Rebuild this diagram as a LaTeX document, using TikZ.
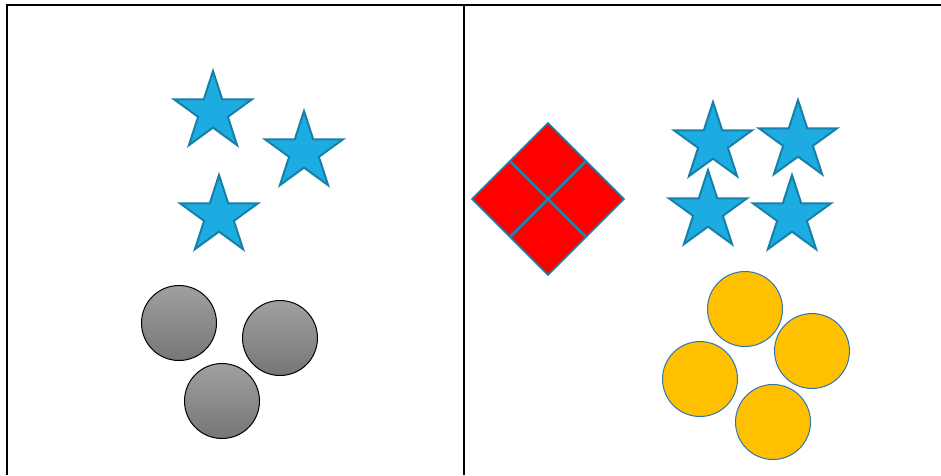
\documentclass[tikz,border=0pt]{standalone}
\usepackage{tikz}
\usetikzlibrary{shapes.geometric}
\definecolor{starfill}{RGB}{29, 172, 226}
\definecolor{starline}{RGB}{22, 128, 168}
\definecolor{coinfill}{RGB}{255, 192, 0}
\definecolor{coinline}{RGB}{46, 117, 182}
\definecolor{grayhi}{RGB}{160, 160, 160}
\definecolor{graylo}{RGB}{118, 118, 118}

\begin{document}
\begin{tikzpicture}[
    x=1pt, y=-1pt,
    bluestar/.style={star, star points=5, star point ratio=2.618, draw=starline, fill=starfill, line width=2pt, inner sep=0pt, minimum size=82pt},
    graycoin/.style={circle, draw=black, line width=1pt, top color=grayhi, bottom color=graylo, inner sep=0pt, minimum size=75pt},
    goldcoin/.style={circle, draw=coinline, fill=coinfill, line width=1pt, inner sep=0pt, minimum size=75pt},
    redtile/.style={rectangle, rotate=45, draw=starline, fill=red, line width=1.5pt, inner sep=0pt, minimum size=53pt},
    frame/.style={line width=2pt}
]
\useasboundingbox (0,0) rectangle (941,475);

% frame
\draw[frame] (7,475) -- (7,5) -- (941,5);
\draw[frame] (464,5) -- (464,475);

% left panel
\node[bluestar] (ls1) at (213,112) {};
\node[bluestar] (ls2) at (304,152) {};
\node[bluestar] (ls3) at (219,216) {};

\node[graycoin] (lc1) at (179,323) {};
\node[graycoin] (lc2) at (280,338) {};
\node[graycoin] (lc3) at (222,401) {};

% right panel
\node[redtile] (rt1) at (548,160.5) {};
\node[redtile] (rt2) at (509.5,199) {};
\node[redtile] (rt3) at (586.5,199) {};
\node[redtile] (rt4) at (548,237.5) {};

\node[bluestar] (rs1) at (713,143) {};
\node[bluestar] (rs2) at (798,141) {};
\node[bluestar] (rs3) at (708,211) {};
\node[bluestar] (rs4) at (792,216) {};

\node[goldcoin] (rc1) at (745,309) {};
\node[goldcoin] (rc2) at (812,351) {};
\node[goldcoin] (rc3) at (700,379) {};
\node[goldcoin] (rc4) at (773,422) {};

\end{tikzpicture}
\end{document}
